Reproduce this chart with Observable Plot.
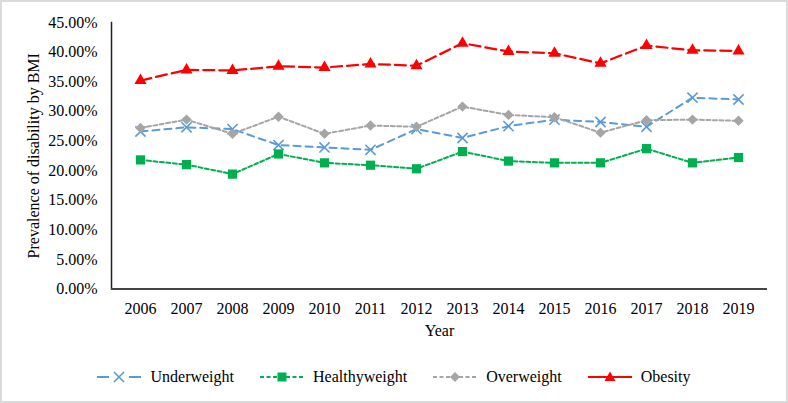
<!DOCTYPE html>
<html>
<head>
<meta charset="utf-8">
<script src="https://cdn.jsdelivr.net/npm/d3@7"></script>
<script src="https://cdn.jsdelivr.net/npm/@observablehq/plot@0.6"></script>
<style>
  html, body { margin: 0; padding: 0; background: #fff; }
  #wrap { width: 788px; height: 403px; box-sizing: border-box; border: 2px solid #dadada; position: relative; background: #fff; overflow: hidden; font-family: 'Liberation Serif'; }
  #chart svg { display: block; }
  #chart svg, #chart svg text { font-family: 'Liberation Serif' !important; }
  #legend { position: absolute; left: 0; right: 0; top: 366px; display: flex; justify-content: center; align-items: center; gap: 26px; font-size: 16px; color: #000; font-family: 'Liberation Serif'; }
  .item { display: flex; align-items: center; }
  .item svg { margin-right: 9px; display: block; }
</style>
</head>
<body>
<div id="wrap">
  <div id="chart"></div>
  <div id="legend"></div>
</div>
<script>
const years = ["2006","2007","2008","2009","2010","2011","2012","2013","2014","2015","2016","2017","2018","2019"];
const underweight   = [26.6, 27.3, 27.0, 24.3, 23.9, 23.5, 27.0, 25.5, 27.5, 28.6, 28.2, 27.4, 32.3, 32.0];
const healthyweight = [21.8, 21.0, 19.4, 22.8, 21.3, 20.9, 20.3, 23.2, 21.6, 21.3, 21.3, 23.7, 21.3, 22.2];
const overweight    = [27.2, 28.6, 26.2, 29.1, 26.2, 27.6, 27.4, 30.8, 29.4, 29.0, 26.4, 28.5, 28.6, 28.4];
const obesity       = [35.2, 37.0, 36.9, 37.6, 37.4, 38.0, 37.7, 41.5, 40.1, 39.8, 38.1, 41.1, 40.3, 40.2];
const seriesNames = ["Underweight", "Healthyweight", "Overweight", "Obesity"];
const yTicks = [0, 5, 10, 15, 20, 25, 30, 35, 40, 45];
const yTitle = "Prevalence of disability by BMI";
const xTitle = "Year";

const seriesValues = [underweight, healthyweight, overweight, obesity];
const styles = [
  {color: "#5B9BD5", dash: "7 5", width: 2, symbol: "times", r: 4.7, fill: "none"},
  {color: "#00B050", dash: "4 2.5", width: 2, symbol: "square", r: 5.2, fill: "#00B050"},
  {color: "#A5A5A5", dash: "4 2.5", width: 2, symbol: "diamond2", r: 4.7, fill: "#A5A5A5"},
  {color: "#FF0000", dash: "11 5", width: 2.25, symbol: "triangle", r: 4.5, fill: "#FF0000"}
];

const marks = [
  Plot.axisY({ticks: yTicks, tickFormat: d => d.toFixed(2) + "%", tickSize: 0, tickPadding: 14, label: null, fontSize: 16}),
  Plot.axisX({tickSize: 0, tickPadding: 14, label: null, fontSize: 16}),
  Plot.frame({anchor: "left", stroke: "#222", strokeWidth: 1.5}),
  Plot.ruleY([0], {stroke: "#444", strokeWidth: 2}),
  Plot.text([yTitle], {frameAnchor: "left", textAnchor: "middle", rotate: -90, dx: -78, fontSize: 16, fill: "#000"}),
  Plot.text([xTitle], {frameAnchor: "bottom", dy: 47, fontSize: 16, fill: "#000"})
];

seriesNames.forEach((name, si) => {
  const s = styles[si];
  const data = years.map((yr, i) => ({year: yr, value: seriesValues[si][i]}));
  marks.push(Plot.line(data, {x: "year", y: "value", stroke: s.color, strokeWidth: s.width, strokeDasharray: s.dash}));
  if (s.symbol === "times") {
    marks.push(Plot.dot(data, {x: "year", y: "value", symbol: "times", r: s.r, stroke: s.color, strokeWidth: 1.6, fill: "none"}));
  } else {
    marks.push(Plot.dot(data, {x: "year", y: "value", symbol: s.symbol, r: s.r, fill: s.fill, stroke: "none"}));
  }
});

const chart = Plot.plot({
  width: 784,
  height: 350,
  marginLeft: 109,
  marginRight: 19,
  marginTop: 20,
  marginBottom: 63.5,
  style: {fontFamily: "Liberation Serif", fontSize: "16px", color: "#000", background: "#fff"},
  x: {type: "point", domain: years, padding: 0.5},
  y: {domain: [0, 45]},
  marks
});
document.getElementById("chart").appendChild(chart);

// Legend
const legend = document.getElementById("legend");
const symPaths = {
  times: '<path d="M17,2 L27,12 M27,2 L17,12" stroke-width="1.6" fill="none"/>',
  square: '<rect x="17.5" y="2.5" width="9" height="9"/>',
  diamond2: '<path d="M22,2 L27,7 L22,12 L17,7 Z"/>',
  triangle: '<path d="M22,1.5 L27.5,11 L16.5,11 Z"/>'
};
seriesNames.forEach((name, si) => {
  const s = styles[si];
  const dash = si === 3 ? "" : `stroke-dasharray="${si === 0 ? '6 5' : '4 2.5'}"`;
  const lineDash = si === 0 ? '<line x1="0" y1="7" x2="12" y2="7"/><line x1="32" y1="7" x2="44" y2="7"/>' : `<line x1="0" y1="7" x2="44" y2="7" ${dash}/>`;
  const item = document.createElement("div");
  item.className = "item";
  item.innerHTML = `<svg width="44" height="14" stroke="${s.color}" fill="${s.fill === 'none' ? 'none' : s.color}" stroke-width="2">
      ${lineDash}
      <g stroke="${s.symbol === 'times' ? s.color : 'none'}" fill="${s.symbol === 'times' ? 'none' : s.color}">${symPaths[s.symbol]}</g>
    </svg><span>${name}</span>`;
  legend.appendChild(item);
});
</script>
</body>
</html>
